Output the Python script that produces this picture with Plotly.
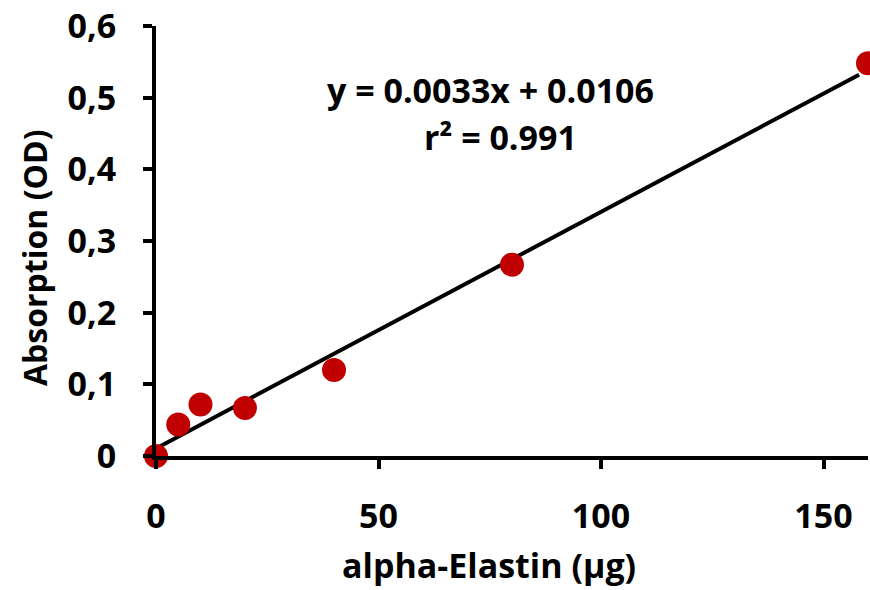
import plotly.graph_objects as go

# Data
elastin_ug = [0, 5, 10, 20, 40, 80, 160]
absorption_od = [0.0, 0.044, 0.072, 0.067, 0.120, 0.267, 0.548]
slope = 0.0033
intercept = 0.0106
fit_x = [0, 158]
fit_y = [slope * v + intercept for v in fit_x]
x_ticks = [0, 50, 100, 150]
y_ticks = [0, 0.1, 0.2, 0.3, 0.4, 0.5, 0.6]

FONT = "Open Sans"
FS = 34
fig = go.Figure()
fig.add_trace(go.Scatter(x=fit_x, y=fit_y, mode="lines",
                         line=dict(color="black", width=4), cliponaxis=False,
                         showlegend=False))
fig.add_trace(go.Scatter(x=elastin_ug, y=absorption_od, mode="markers",
                         marker=dict(color="#C00000", size=24), cliponaxis=False,
                         showlegend=False))

fig.update_layout(
    width=870, height=590,
    margin=dict(l=156, r=2, t=26, b=134),
    plot_bgcolor="white", paper_bgcolor="white",
    separators=",.",
    font=dict(family=FONT, size=FS, color="black", weight="bold"),
    xaxis=dict(range=[0, 160], tickvals=x_ticks, showgrid=False, zeroline=False,
               showline=True, linecolor="black", linewidth=4,
               ticks="outside", ticklen=9, tickwidth=4, tickcolor="black",
               ticklabelstandoff=18,
               tickfont=dict(family=FONT, size=FS, weight="bold")),
    yaxis=dict(range=[0, 0.6], tickvals=y_ticks, showgrid=False, zeroline=False,
               showline=True, linecolor="black", linewidth=4,
               ticks="outside", ticklen=9, tickwidth=4, tickcolor="black",
               ticklabelstandoff=20,
               tickfont=dict(family=FONT, size=FS, weight="bold")),
    annotations=[
        dict(text="alpha-Elastin (µg)", xref="paper", yref="paper", x=(489-156)/712, y=-(565-456)/430,
             showarrow=False, xanchor="center", yanchor="middle",
             font=dict(family=FONT, size=FS, weight="bold")),
        dict(text="Absorption (OD)", xref="paper", yref="paper", x=-(156-34)/712, y=(456-258)/430,
             showarrow=False, xanchor="center", yanchor="middle", textangle=-90,
             font=dict(family=FONT, size=32, weight="bold")),
        dict(text=f"y = {slope}x + {intercept}", xref="paper", yref="paper",
             x=(490-156)/712, y=(456-90)/430, showarrow=False,
             xanchor="center", yanchor="middle",
             font=dict(family=FONT, size=FS, weight="bold")),
        dict(text="r² = 0.991", xref="paper", yref="paper",
             x=(500-156)/712, y=(456-137)/430, showarrow=False,
             xanchor="center", yanchor="middle",
             font=dict(family=FONT, size=FS, weight="bold")),
    ],
)

fig.write_html("out.html")
